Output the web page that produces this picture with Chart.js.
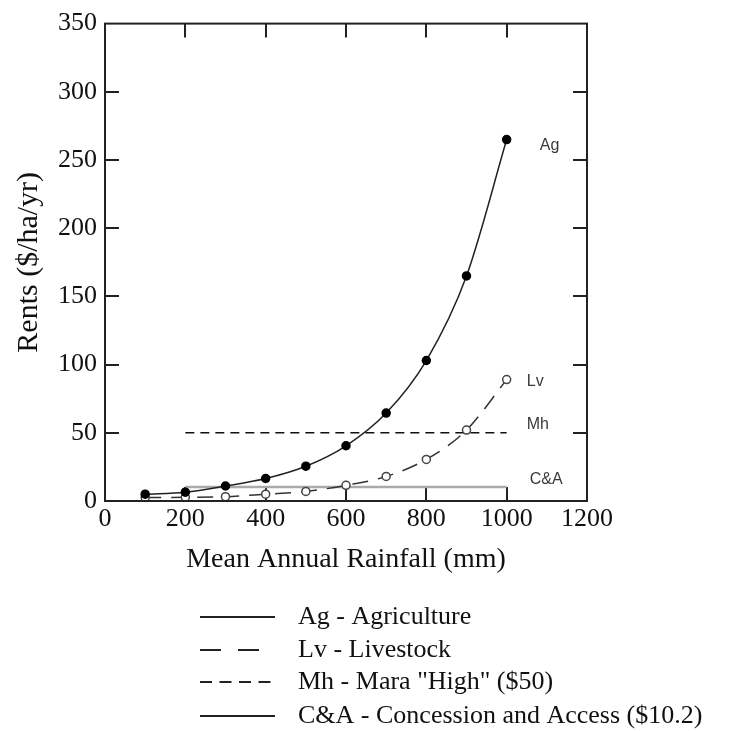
<!DOCTYPE html>
<html>
<head>
<meta charset="utf-8">
<script src="https://cdn.jsdelivr.net/npm/chart.js@4.4.1/dist/chart.umd.min.js"></script>
<style>
  body { margin: 0; background: #fff; }
</style>
</head>
<body>
<canvas id="rent-chart" width="748" height="731"></canvas>
<script>
// rainfall (mm) and rent values
const rainfall = [100, 200, 300, 400, 500, 600, 700, 800, 900, 1000]
const agRent = [5, 6.5, 11, 16.5, 25.5, 40.5, 64.5, 103, 165, 265]
const lvRent = [2.5, 2.7, 3.2, 5, 7, 11.5, 18, 30.5, 52, 89]
const flatRange = [200, 1000]
const mhRent = 50
const caRent = 10.2
const xTicks = [0, 200, 400, 600, 800, 1000, 1200]
const yTicks = [0, 50, 100, 150, 200, 250, 300, 350]
const tags = ['Ag', 'Lv', 'Mh', 'C&A']
const legendLabels = ['Ag - Agriculture', 'Lv - Livestock', 'Mh - Mara "High" ($50)', 'C&A - Concession and Access ($10.2)']

const serif = '"Liberation Serif", "Times New Roman", serif'
const sans = '"Liberation Sans", Arial, sans-serif'

const toPoints = (xs, ys) => xs.map((x, i) => ({ x, y: ys[i] }))

const datasets = [
   {
      label: legendLabels[0],
      data: toPoints(rainfall, agRent),
      borderColor: '#222',
      borderWidth: 1.5,
      pointRadius: 4,
      pointBackgroundColor: '#000',
      pointBorderColor: '#000',
      cubicInterpolationMode: 'monotone',
      legendDash: [],
   },
   {
      label: legendLabels[1],
      data: toPoints(rainfall, lvRent),
      borderColor: '#333',
      borderWidth: 1.5,
      borderDash: [16, 10],
      pointRadius: 4,
      pointBackgroundColor: '#fff',
      pointBorderColor: '#444',
      pointBorderWidth: 1.5,
      cubicInterpolationMode: 'monotone',
      legendDash: [21, 17],
   },
   {
      label: legendLabels[2],
      data: flatRange.map(x => ({ x, y: mhRent })),
      borderColor: '#111',
      borderWidth: 1.5,
      borderDash: [9, 6],
      pointRadius: 0,
      legendDash: [12, 7.5],
   },
   {
      label: legendLabels[3],
      data: flatRange.map(x => ({ x, y: caRent })),
      borderColor: '#aaa',
      borderWidth: 2.5,
      pointRadius: 0,
      legendDash: [],
   },
]

// box frame with inward ticks on all four sides, tags and the legend
const frameTicks = {
   id: 'frameTicks',
   beforeDatasetsDraw(chart) {
      const { ctx, chartArea: a, scales: { x, y } } = chart
      ctx.save()
      ctx.strokeStyle = '#222'
      ctx.lineWidth = 2
      ctx.beginPath()
      xTicks.forEach(v => {
         const px = Math.round(x.getPixelForValue(v))
         if (px <= a.left + 2 || px >= a.right - 2) return
         ctx.moveTo(px, a.bottom); ctx.lineTo(px, a.bottom - 14)
         ctx.moveTo(px, a.top); ctx.lineTo(px, a.top + 14)
      })
      yTicks.forEach(v => {
         const py = Math.round(y.getPixelForValue(v))
         if (py <= a.top + 2 || py >= a.bottom - 2) return
         ctx.moveTo(a.left, py); ctx.lineTo(a.left + 14, py)
         ctx.moveTo(a.right, py); ctx.lineTo(a.right - 14, py)
      })
      ctx.stroke()
      ctx.restore()
   },
   afterDatasetsDraw(chart) {
      const { ctx, chartArea: a, scales: { x, y } } = chart
      ctx.save()
      ctx.strokeStyle = '#222'
      ctx.lineWidth = 2
      ctx.strokeRect(a.left, a.top, a.right - a.left, a.bottom - a.top)

      ctx.font = '16px ' + sans
      ctx.fillStyle = '#3a3a3a'
      ctx.textBaseline = 'middle'
      const tx = x.getPixelForValue(1050)
      const ends = [agRent[agRent.length - 1], lvRent[lvRent.length - 1], mhRent, caRent]
      const offs = [6, 2, -8, -7]
      const shift = [13, 0, 0, 3]
      tags.forEach((t, i) => {
         ctx.fillText(t, tx + shift[i], y.getPixelForValue(ends[i]) + offs[i])
      })
      ctx.restore()
   },
   afterDraw(chart) {
      const { ctx } = chart
      ctx.save()
      ctx.font = '26px ' + serif
      ctx.fillStyle = '#111'
      ctx.textBaseline = 'middle'
      const rows = [617, 650, 682, 716]
      chart.data.datasets.forEach((ds, i) => {
         ctx.strokeStyle = '#222'
         ctx.lineWidth = 2
         ctx.setLineDash(ds.legendDash)
         ctx.beginPath()
         ctx.moveTo(200, rows[i]); ctx.lineTo(275, rows[i])
         ctx.stroke()
         ctx.fillText(ds.label, 298, rows[i])
      })
      ctx.restore()
   },
}

const ctx = document.getElementById('rent-chart').getContext('2d')
const rentChart = new Chart(ctx, {
   type: 'line',
   data: { datasets },
   plugins: [frameTicks],
   options: {
      responsive: false,
      animation: false,
      layout: { padding: { left: 0, top: 22, right: 161, bottom: 150 } },
      plugins: { legend: { display: false }, tooltip: { enabled: false } },
      scales: {
         x: {
            type: 'linear',
            min: 0,
            max: 1200,
            afterBuildTicks: s => { s.ticks = xTicks.map(value => ({ value })) },
            afterFit: s => { s.height = 80 },
            grid: { display: false, drawTicks: false },
            border: { display: false },
            ticks: { font: { family: serif, size: 26 }, color: '#111', padding: 3, maxRotation: 0, callback: v => String(v) },
            title: {
               display: true,
               text: 'Mean Annual Rainfall (mm)',
               font: { family: serif, size: 28 },
               color: '#111',
               padding: { top: 0, bottom: 5 },
            },
         },
         y: {
            min: 0,
            max: 350,
            afterBuildTicks: s => { s.ticks = yTicks.map(value => ({ value })) },
            afterFit: s => { s.width = 105 },
            grid: { display: false, drawTicks: false },
            border: { display: false },
            ticks: { font: { family: serif, size: 26 }, color: '#111', padding: 8, callback: v => String(v) },
            title: {
               display: true,
               text: 'Rents ($/ha/yr)',
               font: { family: serif, size: 30 },
               color: '#111',
               padding: { top: 11, bottom: 0 },
            },
         },
      },
   },
})
</script>
</body>
</html>
